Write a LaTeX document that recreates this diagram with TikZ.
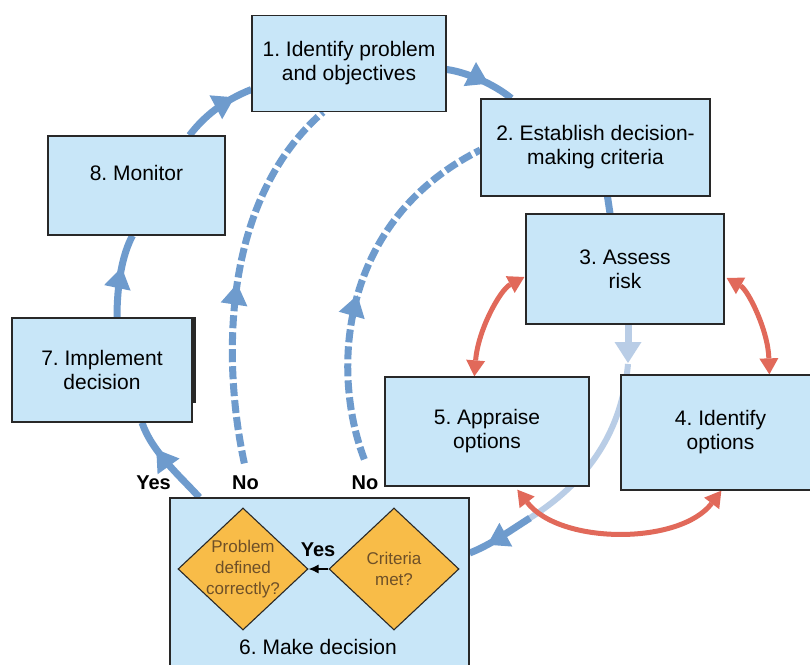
\documentclass[tikz,border=0pt]{standalone}
\usepackage{fontspec}
\setmainfont{Liberation Sans}
\usetikzlibrary{arrows.meta,shapes.geometric,calc,decorations.markings}
\pgfdeclarelayer{bg}
\pgfsetlayers{bg,main}
\definecolor{boxfill}{RGB}{200,230,248}
\definecolor{boxline}{RGB}{40,40,40}
\definecolor{flowblue}{RGB}{110,155,205}
\definecolor{lightflow}{RGB}{185,205,230}
\definecolor{redflow}{RGB}{225,105,90}
\definecolor{diafill}{RGB}{248,188,72}
\definecolor{diatextcol}{RGB}{110,80,40}
\frenchspacing
\begin{document}
\begin{tikzpicture}[x=1pt,y=-1pt,
  font=\fontsize{21}{24}\selectfont,
  box/.style={draw=boxline, line width=1.3pt, fill=boxfill, align=center, inner sep=0pt},
  dia/.style={diamond, draw=boxline, line width=1.1pt, fill=diafill, minimum width=130pt, minimum height=122pt, inner sep=0pt},
  diatext/.style={font=\fontsize{17}{21}\selectfont, text=diatextcol, align=center},
  lab/.style={font=\fontsize{20}{24}\selectfont\bfseries},
  bighead/.tip={Triangle[width=27pt,length=21pt,line width=0pt]},
  redhead/.tip={Triangle[width=19pt,length=16pt,line width=0pt]},
  flow/.style={color=flowblue, line width=7pt},
  nodash/.style={color=flowblue, line width=7pt, dash pattern=on 13pt off 4pt},
  midarrow/.style={postaction={decorate, decoration={markings, mark=at position #1 with {\arrow{bighead}}}}},
  redarrow/.style={color=redflow, line width=5pt, {redhead}-{redhead}}
]
\clip (0,0) rectangle (810,664);

% boxes
\node[box, minimum width=194pt, minimum height=96pt] (n1) at (349,63.5) {1. Identify problem\\and objectives};
\node[box, minimum width=229pt, minimum height=97pt] (n2) at (595.5,147.5) {2. Establish decision-\\making criteria};
\node[box, minimum width=198pt, minimum height=110pt] (n3) at (625,269) {3. Assess\\risk};
\node[box, minimum width=199pt, minimum height=115pt] (n4) at (720.5,432.5) {4. Identify\\options};
\node[box, minimum width=204pt, minimum height=109pt] (n5) at (487,431.5) {5. Appraise\\options};
\node[box, minimum width=299pt, minimum height=204pt] (n6) at (319.5,600) {};
\node[box, minimum width=180pt, minimum height=104pt] (n7) at (102,370) {7. Implement\\decision};
\fill[boxline] (n7.north east) rectangle ($(n7.north east)+(3,86)$);
\node[box, minimum width=177pt, minimum height=99pt, label={[yshift=12.5pt]center:8. Monitor}] (n8) at (136.5,185.5) {};

% decision box content
\node[dia, label={[diatext]center:{Problem\\defined\\correctly?}}] (d1) at (243,569) {};
\node[dia, label={[diatext]center:{Criteria\\met?}}] (d2) at (394,569) {};
\draw[black, line width=1.3pt, -{Latex[length=10pt,width=9pt]}] (d2.west) -- (d1.east);
\node[lab] (yes2) at (318,550) {Yes};
\node (t6) at (318,647) {6. Make decision};

% outside labels
\node[lab] (yes1) at (153.5,483) {Yes};
\node[lab] (no1) at (245.5,483) {No};
\node[lab] (no2) at (365,483) {No};

\begin{pgfonlayer}{bg}
\fill[white] (0,0) rectangle (810,664);
% main cycle
\draw[flow, midarrow=0.76] ($(n8.north)+(53,0)$) .. controls (205,115) and (225,100) .. ($(n1.west)+(0,26)$);
\draw[flow, midarrow=0.62] ($(n1.east)+(0,6)$) .. controls (466,72) and (494,84) .. ($(n2.north west)+(31,0)$);
\draw[flow] ($(n2.south)+(12,0)$) -- ($(n3.north)+(-15,0)$);
\draw[flow, midarrow=0.6] ($(n7.north)+(15,0)$) .. controls (117,285) and (122,255) .. ($(n8.south)+(-4,0)$);
\draw[flow, midarrow=0.68] ($(n6.north west)+(30,0)$) .. controls (180,476) and (152,452) .. ($(n7.south)+(40,0)$);
% No loops
\draw[nodash, midarrow=0.48] ($(n6.north west)+(75,-34)$) .. controls (222,360) and (222,200) .. ($(n1.south)+(-26,0)$);
\draw[nodash, midarrow=0.46] ($(n6.north west)+(195,-38)$) .. controls (330,370) and (340,220) .. ($(n2.west)+(0,2.5)$);
% 3 -> 6
\draw[color=lightflow, line width=7pt, -{bighead}] ($(n3.south)+(3,0)$) -- (628,363);
\coordinate (m36) at (530,518);
\draw[color=lightflow, line width=6pt] (628,364) .. controls (622,430) and (590,480) .. (m36);
\draw[flow, midarrow=0.72] (m36) .. controls (505,534) and (490,545) .. ($(n6.east)+(0,-47)$);
% red
\draw[redarrow] ($(n3.west)+(-1,8)$) .. controls (500,290) and (478,330) .. ($(n5.north west)+(90,0)$);
\draw[redarrow] ($(n3.east)+(2,9)$) .. controls (748,290) and (768,330) .. ($(n4.north west)+(149,0)$);
\draw[redarrow] ($(n5.south west)+(133,3)$) .. controls (560,545) and (680,545) .. ($(n4.south west)+(101,0)$);
\end{pgfonlayer}
\end{tikzpicture}
\end{document}
